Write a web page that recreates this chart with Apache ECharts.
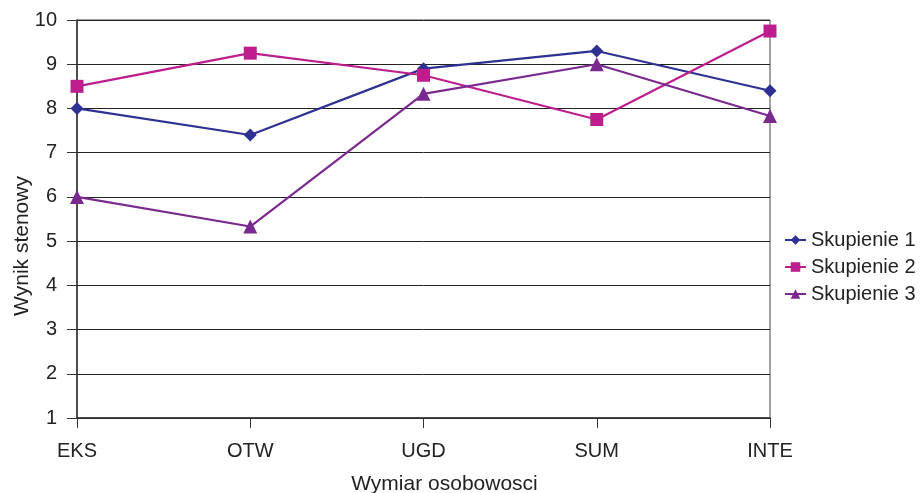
<!DOCTYPE html>
<html>
<head>
<meta charset="utf-8">
<script src="https://cdn.jsdelivr.net/npm/echarts@6/dist/echarts.min.js"></script>
<style>
html, body { margin: 0; padding: 0; background: #fff; }
#chart { width: 923px; height: 493px; }
</style>
</head>
<body>
<div id="chart"></div>
<script>
// Personality dimensions and mean sten scores per cluster
const categories = ['EKS', 'OTW', 'UGD', 'SUM', 'INTE'];
const skupienie1 = [8.0, 7.4, 8.9, 9.3, 8.4];
const skupienie2 = [8.5, 9.25, 8.75, 7.75, 9.75];
const skupienie3 = [6.0, 5.33, 8.33, 9.0, 7.83];
const seriesNames = ['Skupienie 1', 'Skupienie 2', 'Skupienie 3'];

const chart = echarts.init(document.getElementById('chart'), null, { renderer: 'canvas' });
const font = 'Liberation Sans, Arial, sans-serif';

function line(name, data, color, symbol, size) {
  return {
    name: name,
    type: 'line',
    data: data,
    symbol: symbol,
    symbolSize: size,
    showSymbol: true,
    lineStyle: { color: color, width: 2.2 },
    itemStyle: { color: color },
    emphasis: { disabled: true },
    animation: false
  };
}

chart.setOption({
  animation: false,
  grid: {
    left: 77, right: 153, top: 20, bottom: 75,
    containLabel: false,
    outerBoundsMode: 'none',
    show: true, borderColor: '#444', borderWidth: 1
  },
  legend: {
    orient: 'vertical',
    left: 779, top: 225,
    itemGap: 7,
    itemWidth: 21, itemHeight: 12,
    textStyle: { fontFamily: font, fontSize: 20, color: '#222' },
    data: seriesNames
  },
  xAxis: {
    type: 'category',
    data: categories,
    boundaryGap: false,
    name: 'Wymiar osobowosci',
    nameLocation: 'middle',
    nameGap: 56,
    nameMoveOverlap: false,
    nameTextStyle: { fontFamily: font, fontSize: 21, color: '#222', padding: [0, 0, 0, 42] },
    axisLine: { lineStyle: { color: '#333', width: 1.5 } },
    axisTick: { show: true, length: 10, alignWithLabel: true, lineStyle: { color: '#333' } },
    axisLabel: { fontFamily: font, fontSize: 20, color: '#222', margin: 23 },
    splitLine: { show: false }
  },
  yAxis: {
    type: 'value',
    min: 1, max: 10, interval: 1,
    name: 'Wynik stenowy',
    nameLocation: 'middle',
    nameGap: 44,
    nameMoveOverlap: false,
    nameTextStyle: { fontFamily: font, fontSize: 21, color: '#222', padding: [0, 54, 0, 0] },
    axisLine: { show: true, lineStyle: { color: '#333', width: 1.5 } },
    axisTick: { show: true, length: 10, inside: false, lineStyle: { color: '#333' } },
    axisLabel: { fontFamily: font, fontSize: 20, color: '#222', margin: 20 },
    splitLine: { show: true, lineStyle: { color: '#222', width: 1 } }
  },
  series: [
    line(seriesNames[0], skupienie1, '#2E3192', 'diamond', 13),
    line(seriesNames[1], skupienie2, '#BE1E8D', 'rect', 13),
    line(seriesNames[2], skupienie3, '#7A2A8F', 'triangle', 14)
  ]
});
</script>
</body>
</html>
